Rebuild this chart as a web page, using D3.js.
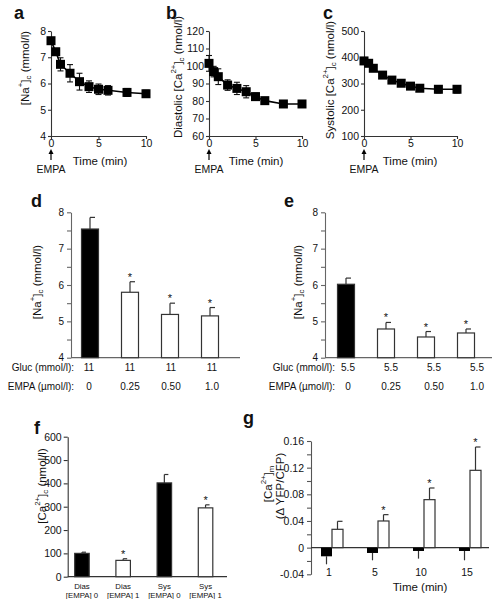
<!DOCTYPE html>
<html><head><meta charset="utf-8">
<script src="https://cdn.jsdelivr.net/npm/d3@7"></script>
<style>
body{margin:0;background:#fff}
svg{display:block}
text{font-family:"Liberation Sans",Arial,Helvetica,sans-serif;fill:#111}
</style>
</head><body>
<svg id="chart" width="495" height="599"></svg>
<script>
// ---------- DATA ----------
const timeABC = [0, 0.5, 1, 2, 3, 4, 5, 6, 8, 10];
const naA = [7.63, 7.21, 6.73, 6.39, 6.07, 5.88, 5.78, 5.74, 5.66, 5.61];
const naAErr = [0.08, 0.12, 0.25, 0.33, 0.32, 0.22, 0.2, 0.18, 0.15, 0.13];
const diasB = [101.5, 96.8, 93.9, 89.1, 87.2, 85.3, 82.5, 80.2, 78.3, 78.3];
const diasBErr = [4.5, 3, 4.5, 3, 3.5, 3.5, 2, 1.2, 1, 1];
const sysC = [386, 377, 358, 332, 313, 301, 290, 282, 278, 278];
const sysCErr = [12, 10, 8, 7, 10, 10, 10, 12, 14, 14];

const glucD = ["11", "11", "11", "11"];
const glucE = ["5.5", "5.5", "5.5", "5.5"];
const empaDose = ["0", "0.25", "0.50", "1.0"];
const naD = [7.54, 5.80, 5.19, 5.15];
const naDErr = [0.32, 0.29, 0.31, 0.23];
const naE = [6.02, 4.79, 4.57, 4.68];
const naEErr = [0.17, 0.18, 0.15, 0.11];
const sigDE = [false, true, true, true];

const catF1 = ["Dias", "Dias", "Sys", "Sys"];
const catF2 = ["[EMPA] 0", "[EMPA] 1", "[EMPA] 0", "[EMPA] 1"];
const caF = [100, 70, 402, 295];
const caFErr = [5, 7, 36, 13];
const sigF = [false, true, false, true];

const timeG = ["1", "5", "10", "15"];
const ctrlG = [-0.013, -0.008, -0.005, -0.005];
const ctrlGErr = [0.012, 0.011, 0.0115, 0.014];
const empaG = [0.0275, 0.040, 0.072, 0.116];
const empaGErr = [0.012, 0.0095, 0.0175, 0.035];
const sigG = [false, true, true, true];

const ticksA = [4, 5, 6, 7, 8];
const ticksB = [60, 70, 80, 90, 100, 110, 120];
const ticksC = [100, 200, 300, 400, 500];
const ticksX = [0, 5, 10];

// ---------- HELPERS ----------
const svg = d3.select("#chart");
const AX = "#333";

function rich(textSel, parts, fs) {
  let shift = 0;
  parts.forEach(([str, kind]) => {
    const target = kind === "sup" ? -fs * 0.42 : kind === "sub" ? fs * 0.28 : 0;
    const ts = textSel.append("tspan").text(str).attr("dy", target - shift);
    if (kind) ts.attr("font-size", fs * 0.68);
    shift = target;
  });
}
function vLabel(x, y, parts, fs) {
  const t = svg.append("text").attr("transform", `translate(${x},${y}) rotate(-90)`)
    .attr("text-anchor", "middle").attr("font-size", fs).attr("dominant-baseline", "central");
  rich(t, parts, fs);
  return t;
}
function panelLetter(x, y, s) {
  svg.append("text").attr("x", x).attr("y", y).attr("font-size", 18)
    .attr("font-weight", "bold").text(s);
}
function styleAxis(g, fs) {
  g.selectAll("path,line").attr("stroke", AX).attr("stroke-width", 1.1);
  g.selectAll("text").attr("font-size", fs).attr("fill", "#111");
}

// ---------- LINE PANELS a,b,c ----------
function linePanel(o) {
  const x = d3.scaleLinear().domain([0, 10]).range([o.x0, o.x1]);
  const y = d3.scaleLinear().domain(o.ydom).range([136, 31]);
  const gy = svg.append("g").attr("transform", `translate(${o.x0},0)`)
    .call(d3.axisLeft(y).tickValues(o.yticks).tickFormat(d3.format("d")).tickSize(3).tickSizeOuter(0).tickPadding(2));
  styleAxis(gy, 10.5);
  const gx = svg.append("g").attr("transform", `translate(0,136)`)
    .call(d3.axisBottom(x).tickValues(ticksX).tickFormat(d3.format("d")).tickSize(3).tickSizeOuter(0).tickPadding(1));
  styleAxis(gx, 10.5);
  // error bars
  const eb = svg.append("g").attr("stroke", "#111").attr("stroke-width", 1.1);
  timeABC.forEach((t, i) => {
    const cx = x(t), top = y(o.ys[i] + o.es[i]), bot = y(o.ys[i] - o.es[i]);
    eb.append("line").attr("x1", cx).attr("x2", cx).attr("y1", top).attr("y2", bot);
    eb.append("line").attr("x1", cx - 3).attr("x2", cx + 3).attr("y1", top).attr("y2", top);
    eb.append("line").attr("x1", cx - 3).attr("x2", cx + 3).attr("y1", bot).attr("y2", bot);
  });
  svg.append("path").datum(timeABC.map((t, i) => [t, o.ys[i]]))
    .attr("d", d3.line().x(d => x(d[0])).y(d => y(d[1])))
    .attr("fill", "none").attr("stroke", "#000").attr("stroke-width", 1.6);
  svg.append("g").selectAll("rect").data(timeABC).join("rect")
    .attr("x", (t) => x(t) - 4.5).attr("y", (t, i) => y(o.ys[i]) - 4.5)
    .attr("width", 9).attr("height", 9).attr("fill", "#000");
  // time label & EMPA arrow
  svg.append("text").attr("x", o.timeX).attr("y", 165).attr("text-anchor", "middle")
    .attr("font-size", 11.5).text("Time (min)");
  const ax = x(0);
  svg.append("line").attr("x1", ax).attr("x2", ax).attr("y1", 152).attr("y2", 160)
    .attr("stroke", "#000").attr("stroke-width", 1.2);
  svg.append("path").attr("d", `M${ax - 2.5},${154} L${ax},${149} L${ax + 2.5},${154} Z`).attr("fill", "#000");
  svg.append("text").attr("x", ax).attr("y", 173).attr("text-anchor", "middle")
    .attr("font-size", 10.5).text("EMPA");
  vLabel(o.labX, o.labY, o.labParts, 11.5);
  panelLetter(o.letX, 19, o.letter);
}

linePanel({x0: 51, x1: 146, ydom: [4, 8], yticks: ticksA, ys: naA, es: naAErr, timeX: 100,
  labX: 25, labY: 68, labParts: [["[Na"], ["+", "sup"], ["]"], ["c", "sub"], [" (mmol/l)"]], letX: 14, letter: "a"});
linePanel({x0: 209, x1: 302, ydom: [60, 120], yticks: ticksB, ys: diasB, es: diasBErr, timeX: 256,
  labX: 178, labY: 77, labParts: [["Diastolic [Ca"], ["2+", "sup"], ["]"], ["c", "sub"], [" (nmol/l)"]], letX: 166, letter: "b"});
linePanel({x0: 364, x1: 457, ydom: [100, 500], yticks: ticksC, ys: sysC, es: sysCErr, timeX: 410,
  labX: 330, labY: 80, labParts: [["Systolic [Ca"], ["2+", "sup"], ["]"], ["c", "sub"], [" (nmol/l)"]], letX: 323, letter: "c"});

// ---------- BAR PANELS d,e ----------
function barPanel(o) {
  const x = d3.scaleBand().domain(d3.range(o.vals.length)).range([o.bx0, o.bx0 + 160]).paddingInner(0.575).paddingOuter(0.2875);
  const y = d3.scaleLinear().domain([4, 8]).range([357.7, 212.3]);
  const gy = svg.append("g").attr("transform", `translate(${o.ax},0)`)
    .call(d3.axisLeft(y).tickValues(d3.range(4, 8.01, 0.5)).tickSize(4).tickSizeOuter(0).tickPadding(3)
      .tickFormat(d => Number.isInteger(d) ? d : ""));
  styleAxis(gy, 10);
  gy.selectAll("path,line").attr("stroke", "#666");
  svg.append("line").attr("x1", o.ax).attr("x2", o.axEnd).attr("y1", y(4)).attr("y2", y(4))
    .attr("stroke", "#666").attr("stroke-width", 1.3);
  const bw = x.bandwidth();
  o.vals.forEach((v, i) => {
    const cx = x(i) + bw / 2;
    const top = y(v + o.errs[i]);
    svg.append("line").attr("x1", cx).attr("x2", cx).attr("y1", y(v)).attr("y2", top).attr("stroke", "#333").attr("stroke-width", 1.2);
    svg.append("line").attr("x1", cx).attr("x2", cx + 5).attr("y1", top).attr("y2", top).attr("stroke", "#333").attr("stroke-width", 1.2);
    svg.append("rect").attr("x", x(i)).attr("y", y(v)).attr("width", bw).attr("height", y(4) - y(v))
      .attr("fill", i === 0 ? "#000" : "#fff").attr("stroke", "#333").attr("stroke-width", 1.2);
    if (o.sig[i]) svg.append("text").attr("x", cx).attr("y", top - 1).attr("text-anchor", "middle")
      .attr("font-size", 11).text("*");
  });
  const tx = d3.scalePoint().domain(d3.range(4)).range(o.tRange);
  svg.append("text").attr("x", o.labRight).attr("y", 371).attr("text-anchor", "end").attr("font-size", 10).text("Gluc (mmol/l):");
  svg.append("text").attr("x", o.labRight).attr("y", 390).attr("text-anchor", "end").attr("font-size", 10).text("EMPA (\u00b5mol/l):");
  o.gluc.forEach((g, i) => svg.append("text").attr("x", tx(i)).attr("y", 371).attr("text-anchor", "middle").attr("font-size", 10).text(g));
  empaDose.forEach((g, i) => svg.append("text").attr("x", tx(i)).attr("y", 390).attr("text-anchor", "middle").attr("font-size", 10).text(g));
  vLabel(o.labX, 282, [["[Na"], ["+", "sup"], ["]"], ["c", "sub"], [" (mmol/l)"]], 11.5);
  panelLetter(o.letX, 207, o.letter);
}
barPanel({vals: naD, errs: naDErr, sig: sigDE, gluc: glucD, ax: 71, axEnd: 240, bx0: 70,
  tRange: [89, 212], labRight: 74, labX: 37, letX: 31, letter: "d"});
barPanel({vals: naE, errs: naEErr, sig: sigDE, gluc: glucE, ax: 325, axEnd: 492, bx0: 326,
  tRange: [348, 477], labRight: 335, labX: 298, letX: 284, letter: "e"});

// ---------- PANEL f ----------
(function () {
  const x = d3.scaleBand().domain(d3.range(4)).range([67.7, 219.8]).paddingInner(0.648).paddingOuter(0.17);
  const y = d3.scaleLinear().domain([0, 600]).range([576.7, 436.7]);
  const gy = svg.append("g").attr("transform", `translate(67.7,0)`)
    .call(d3.axisLeft(y).ticks(6).tickSize(4).tickSizeOuter(0).tickPadding(2));
  styleAxis(gy, 10.5);
  svg.append("line").attr("x1", 67.7).attr("x2", 227).attr("y1", y(0)).attr("y2", y(0))
    .attr("stroke", AX).attr("stroke-width", 1.2);
  const bw = x.bandwidth();
  caF.forEach((v, i) => {
    const cx = x(i) + bw / 2, top = y(v + caFErr[i]);
    svg.append("line").attr("x1", cx).attr("x2", cx).attr("y1", y(v)).attr("y2", top).attr("stroke", "#333").attr("stroke-width", 1.2);
    svg.append("line").attr("x1", cx).attr("x2", cx + 4).attr("y1", top).attr("y2", top).attr("stroke", "#333").attr("stroke-width", 1.2);
    svg.append("rect").attr("x", x(i)).attr("y", y(v)).attr("width", bw).attr("height", y(0) - y(v))
      .attr("fill", i % 2 === 0 ? "#000" : "#fff").attr("stroke", "#333").attr("stroke-width", 1.2);
    if (sigF[i]) svg.append("text").attr("x", cx).attr("y", top - 1).attr("text-anchor", "middle").attr("font-size", 11).text("*");
    svg.append("text").attr("x", cx).attr("y", 588.5).attr("text-anchor", "middle").attr("font-size", 7.8).attr("fill", "#333").text(catF1[i]);
    svg.append("text").attr("x", cx).attr("y", 597.5).attr("text-anchor", "middle").attr("font-size", 7.8).attr("fill", "#333").text(catF2[i]);
  });
  vLabel(42, 486, [["[Ca"], ["2+", "sup"], ["]"], ["c", "sub"], [" (nmol/l)"]], 11.5);
  panelLetter(34, 434, "f");
})();

// ---------- PANEL g ----------
(function () {
  const x = d3.scaleBand().domain(timeG).range([309, 493]);
  const y = d3.scaleLinear().domain([-0.04, 0.16]).range([574.3, 441]);
  const gy = svg.append("g").attr("transform", `translate(311,0)`)
    .call(d3.axisLeft(y).tickValues(d3.range(-0.04, 0.1601, 0.02).map(d => +d.toFixed(2)))
      .tickSize(4).tickSizeOuter(0).tickPadding(3)
      .tickFormat(d => (Math.round(d * 100) % 4 === 0) ? (d === 0 ? "0" : d.toFixed(2)) : ""));
  styleAxis(gy, 10.5);
  gy.selectAll("path,line").attr("stroke", "#555");
  svg.append("line").attr("x1", 311).attr("x2", 489).attr("y1", y(0)).attr("y2", y(0))
    .attr("stroke", "#333").attr("stroke-width", 1.2);
  const bw = 11;
  timeG.forEach((t, i) => {
    const c = x(t) + x.bandwidth() / 2;
    const cb = y(ctrlG[i] - ctrlGErr[i]);
    svg.append("line").attr("x1", c - bw / 2).attr("x2", c - bw / 2).attr("y1", y(ctrlG[i])).attr("y2", cb).attr("stroke", "#333").attr("stroke-width", 1.2);
    svg.append("rect").attr("x", c - bw).attr("y", y(0)).attr("width", bw).attr("height", y(ctrlG[i]) - y(0)).attr("fill", "#000");
    const et = y(empaG[i] + empaGErr[i]);
    const ex = c + bw / 2;
    svg.append("line").attr("x1", ex).attr("x2", ex).attr("y1", y(empaG[i])).attr("y2", et).attr("stroke", "#333").attr("stroke-width", 1.2);
    svg.append("line").attr("x1", ex).attr("x2", ex + 5).attr("y1", et).attr("y2", et).attr("stroke", "#333").attr("stroke-width", 1.2);
    svg.append("rect").attr("x", c).attr("y", y(empaG[i])).attr("width", bw).attr("height", y(0) - y(empaG[i]))
      .attr("fill", "#fff").attr("stroke", "#333").attr("stroke-width", 1.2);
    if (sigG[i]) svg.append("text").attr("x", ex).attr("y", et - 1).attr("text-anchor", "middle").attr("font-size", 11).text("*");
    svg.append("text").attr("x", c - 3).attr("y", 576).attr("text-anchor", "middle").attr("font-size", 10.5).text(t);
  });
  svg.append("text").attr("x", 420).attr("y", 591).attr("text-anchor", "middle").attr("font-size", 11.5).text("Time (min)");
  vLabel(268, 484, [["[Ca"], ["2+", "sup"], ["]"], ["m", "sub"]], 11.5);
  vLabel(280, 486, [["(\u0394 YFP/CFP)"]], 11.5);
  panelLetter(243, 424, "g");
})();
</script>
</body></html>
